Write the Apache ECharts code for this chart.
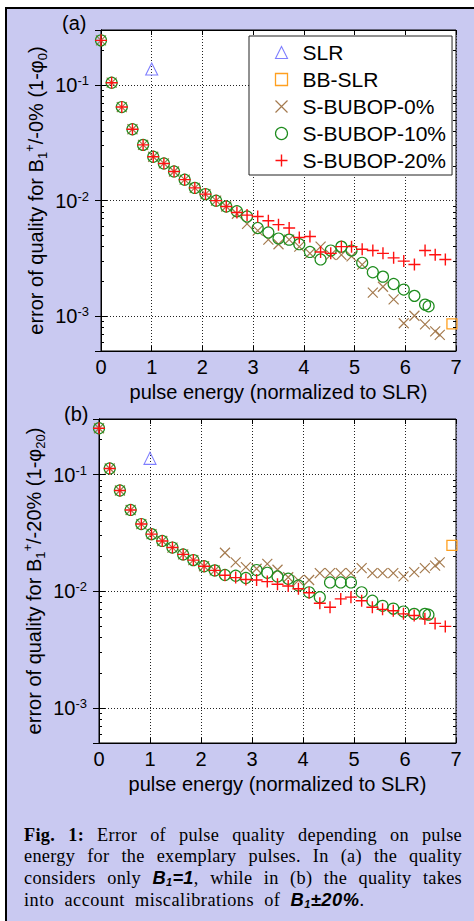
<!DOCTYPE html>
<html><head><meta charset="utf-8">
<script src="https://cdn.jsdelivr.net/npm/echarts@6/dist/echarts.min.js"></script>
<style>
html,body{margin:0;padding:0;background:#fff;width:474px;height:921px;overflow:hidden;}
#bg{position:absolute;left:5px;top:7px;width:469px;height:914px;background:#c9c9f1;border-left:2px solid #000;border-top:2px solid #000;box-sizing:border-box;}
#chart{position:absolute;left:0;top:0;width:474px;height:921px;}
#cap{position:absolute;left:24px;top:825px;width:438px;font-family:'Liberation Serif','Times New Roman',serif;font-size:18.3px;line-height:21px;letter-spacing:0.3px;color:#000;z-index:5;}
#cap .j{text-align:justify;text-align-last:justify;}
#cap .l{word-spacing:5px;letter-spacing:0.5px;}
#cap .s{font-family:'Liberation Sans',Arial,sans-serif;font-weight:bold;font-style:italic;}
#cap sub{font-size:0.6em;vertical-align:-0.2em;line-height:0;}
</style></head>
<body>
<div id="bg"></div>
<div id="chart"></div>
<div id="cap">
<div class="j"><b>Fig. 1:</b> Error of pulse quality depending on pulse</div>
<div class="j">energy for the exemplary pulses. In (a) the quality</div>
<div class="j">considers only <span class="s">B<sub>1</sub>=1</span>, while in (b) the quality takes</div>
<div class="l">into account miscalibrations of <span class="s">B<sub>1</sub>±20%</span>.</div>
</div>
<script>
// ---- tick labels / axis values ----
const xTicks = [0, 1, 2, 3, 4, 5, 6, 7];
const yDecades = [1e-3, 1e-2, 1e-1];
const yMinorTicks = [6e-4, 7e-4, 8e-4, 9e-4, 2e-3, 3e-3, 4e-3, 5e-3, 6e-3, 7e-3, 8e-3, 9e-3,
  2e-2, 3e-2, 4e-2, 5e-2, 6e-2, 7e-2, 8e-2, 9e-2, 2e-1];
const legendNames = ['SLR', 'BB-SLR', 'S-BUBOP-0%', 'S-BUBOP-10%', 'S-BUBOP-20%'];

// ---- pulse energies (x) ----
const energy20 = [0, 0.21, 0.41, 0.62, 0.83, 1.03, 1.24, 1.44, 1.65, 1.85, 2.06, 2.27, 2.47, 2.68, 2.88, 3.09, 3.30,
  3.50, 3.71, 3.91, 4.12, 4.33, 4.53, 4.74, 4.94, 5.15, 5.36, 5.56, 5.77, 5.97, 6.18, 6.39, 6.59, 6.79];
const energy10 = [0, 0.21, 0.41, 0.62, 0.83, 1.03, 1.24, 1.44, 1.65, 1.85, 2.06, 2.27, 2.47, 2.68, 2.88, 3.09, 3.30,
  3.50, 3.71, 3.91, 4.12, 4.33, 4.53, 4.74, 4.94, 5.15, 5.36, 5.56, 5.77, 5.97, 6.18, 6.39, 6.46];
const energy0 = [0, 0.21, 0.41, 0.62, 0.83, 1.03, 1.24, 1.44, 1.65, 1.85, 2.06, 2.27, 2.47, 2.68, 2.88, 3.09, 3.30,
  3.50, 3.71, 3.91, 4.12, 4.33, 4.53, 4.74, 4.94, 5.15, 5.36, 5.56, 5.77, 5.97, 6.18, 6.39, 6.59, 6.68];
const slrEnergy = [1.0];
const bbEnergy = [6.92];

// ---- (a) error for B1 +/-0% ----
const slrA = [0.138];
const bbA = [0.00086];
const bubop0A = [0.244, 0.105, 0.0646, 0.0415, 0.0304, 0.024, 0.021, 0.0179, 0.0152, 0.0129, 0.0114, 0.0100, 0.0089,
  0.0077, 0.0063, 0.0055, 0.0046, 0.0042, 0.0046, 0.0040, 0.0035, 0.0040, 0.0034, 0.0034, 0.0033, 0.0028,
  0.0016, 0.0018, 0.0014, 0.00087, 0.00101, 0.00085, 0.00074, 0.00069];
const bubop10A = [0.244, 0.105, 0.0646, 0.0415, 0.0304, 0.024, 0.021, 0.0179, 0.0152, 0.0129, 0.0114, 0.0100, 0.0089,
  0.0081, 0.0073, 0.0058, 0.0053, 0.0047, 0.0046, 0.0042, 0.0036, 0.0031, 0.0037, 0.0040, 0.0037, 0.0029,
  0.0024, 0.0022, 0.0019, 0.0017, 0.0015, 0.00126, 0.00122];
const bubop20A = [0.244, 0.105, 0.0646, 0.0415, 0.0304, 0.024, 0.021, 0.0179, 0.0152, 0.0129, 0.0114, 0.0100, 0.0089,
  0.0079, 0.0075, 0.0073, 0.0067, 0.0062, 0.0058, 0.0048, 0.0049, 0.0036, 0.0035, 0.0040, 0.0040, 0.0038,
  0.0037, 0.0035, 0.0032, 0.0030, 0.0028, 0.0037, 0.0034, 0.0031];

// ---- (b) error for B1 +/-20% ----
const slrB = [0.138];
const bbB = [0.0247];
const bubop0B = [0.25, 0.113, 0.0731, 0.0498, 0.0377, 0.0309, 0.027, 0.0237, 0.0207, 0.0185, 0.0164, 0.0151, 0.0214,
  0.0177, 0.0161, 0.0156, 0.0172, 0.0153, 0.0132, 0.0124, 0.0125, 0.0143, 0.0143, 0.0143, 0.0143, 0.0158,
  0.0143, 0.0143, 0.0143, 0.0134, 0.0146, 0.0158, 0.0166, 0.0177];
const bubop10B = [0.25, 0.113, 0.0731, 0.0498, 0.0377, 0.0309, 0.027, 0.0237, 0.0207, 0.0185, 0.0164, 0.0151, 0.0138,
  0.0136, 0.0130, 0.0152, 0.0144, 0.0134, 0.0128, 0.0112, 0.0098, 0.0089, 0.0119, 0.0119, 0.0119, 0.0098,
  0.0083, 0.0075, 0.0071, 0.0067, 0.0064, 0.0064, 0.0063];
const bubop20B = [0.25, 0.113, 0.0731, 0.0498, 0.0377, 0.0309, 0.027, 0.0237, 0.0207, 0.0185, 0.0164, 0.0151, 0.0137,
  0.0131, 0.0126, 0.0125, 0.0121, 0.0115, 0.0111, 0.0105, 0.0097, 0.0079, 0.0073, 0.0086, 0.0089, 0.0083,
  0.0073, 0.0070, 0.0068, 0.0064, 0.0062, 0.0058, 0.0053, 0.0050];

const FONT = "'Liberation Sans', Arial, sans-serif";
const pair = (xs, ys) => ys.map((v, i) => [xs[i], v]);

const styles = {
  'SLR': {symbol: 'triangle', size: 12, color: '#7f7fff', w: 1.1},
  'BB-SLR': {symbol: 'rect', size: 10, color: '#ffa020', w: 1.3},
  'S-BUBOP-0%': {symbol: 'path://M0,0L10,10M10,0L0,10', size: 10, color: '#a47a4e', w: 1.2},
  'S-BUBOP-10%': {symbol: 'circle', size: 11, color: '#1e8c1e', w: 1.2},
  'S-BUBOP-20%': {symbol: 'path://M5,0L5,10M0,5L10,5', size: 12, color: '#ff1010', w: 1.4}
};

function scatter(name, data, idx) {
  const s = styles[name];
  return {
    type: 'scatter', name: name, data: data, xAxisIndex: idx * 2, yAxisIndex: idx * 4,
    symbol: s.symbol, symbolSize: s.size, silent: true,
    itemStyle: {color: 'none', borderColor: s.color, borderWidth: s.w, opacity: 1}
  };
}

const yLabelFmt = v => {
  for (let i = 0; i < yDecades.length; i++) {
    if (Math.abs(v / yDecades[i] - 1) < 1e-6) {
      return '{b|10}{s|' + Math.round(Math.log10(yDecades[i])) + '}';
    }
  }
  return '';
};

const grids = [
  {left: 101, top: 30, width: 355, height: 321},
  {left: 99, top: 419, width: 357, height: 324}
];

const xAxes = [], yAxes = [];
const yNames = [
  '{n|error of quality for B}{sub|1}{sup|+}{n|/-0% (1-φ}{sub|0}{n|)}',
  '{n|error of quality for B}{sub|1}{sup|+}{n|/-20% (1-φ}{sub|20}{n|)}'
];
grids.forEach((g, gi) => {
  xAxes.push({
    gridIndex: gi, type: 'value', min: xTicks[0], max: xTicks[xTicks.length - 1], interval: 1,
    name: 'pulse energy (normalized to SLR)', nameLocation: 'middle', nameGap: 31, nameMoveOverlap: false,
    nameTextStyle: {fontSize: 20, fontFamily: FONT, color: '#000'},
    axisLine: {show: true, lineStyle: {color: '#000', width: 1}},
    axisTick: {show: true, inside: true, length: 5, lineStyle: {color: '#000'}},
    axisLabel: {show: true, margin: 6, fontSize: 20, fontFamily: FONT, color: '#000', hideOverlap: false},
    splitLine: {show: true, lineStyle: {color: '#222', width: 1, type: [1, 2]}}
  });
  xAxes.push({
    gridIndex: gi, type: 'value', position: 'top', min: xTicks[0], max: xTicks[xTicks.length - 1], interval: 1,
    axisLine: {show: true, lineStyle: {color: '#000', width: 1}},
    axisTick: {show: true, inside: true, length: 5, lineStyle: {color: '#000'}},
    axisLabel: {show: false}, splitLine: {show: false}
  });
  const base = {gridIndex: gi, type: 'log', logBase: 10, min: 5e-4, max: 0.3};
  yAxes.push(Object.assign({}, base, {
    position: 'left',
    name: yNames[gi], nameLocation: 'middle', nameGap: 52, nameRotate: 90, nameMoveOverlap: false,
    nameTextStyle: {fontSize: 20, fontFamily: FONT, color: '#000',
      rich: {
        n: {fontSize: 20, fontFamily: FONT, color: '#000', lineHeight: 26},
        sub: {fontSize: 13, fontFamily: FONT, color: '#000', lineHeight: 12, verticalAlign: 'bottom'},
        sup: {fontSize: 13, fontFamily: FONT, color: '#000', lineHeight: 12, verticalAlign: 'top'}
      }},
    axisLine: {show: true, lineStyle: {color: '#000', width: 1}},
    axisTick: {show: true, inside: true, length: 6, lineStyle: {color: '#000'}},
    axisLabel: {show: true, margin: 12, formatter: yLabelFmt, hideOverlap: false,
      showMinLabel: true, showMaxLabel: true,
      rich: {
        b: {fontSize: 20, fontFamily: FONT, color: '#000', lineHeight: 22},
        s: {fontSize: 13, fontFamily: FONT, color: '#000', lineHeight: 12, verticalAlign: 'top'}
      }},
    splitLine: {show: true, lineStyle: {color: '#222', width: 1, type: [1, 2]}},
    minorTick: {show: false}
  }));
  yAxes.push(Object.assign({}, base, {
    position: 'right',
    axisLine: {show: true, lineStyle: {color: '#000', width: 1}},
    axisTick: {show: true, inside: true, length: 6, lineStyle: {color: '#000'}},
    axisLabel: {show: false}, splitLine: {show: false}
  }));
  ['left', 'right'].forEach(pos => {
    yAxes.push(Object.assign({}, base, {
      position: pos,
      axisLine: {show: false},
      axisTick: {show: true, inside: true, length: 3, customValues: yMinorTicks, lineStyle: {color: '#000'}},
      axisLabel: {show: false}, splitLine: {show: false}
    }));
  });
});

const series = [
  scatter('SLR', pair(slrEnergy, slrA), 0),
  scatter('BB-SLR', pair(bbEnergy, bbA), 0),
  scatter('S-BUBOP-0%', pair(energy0, bubop0A), 0),
  scatter('S-BUBOP-10%', pair(energy10, bubop10A), 0),
  scatter('S-BUBOP-20%', pair(energy20, bubop20A), 0),
  scatter('SLR', pair(slrEnergy, slrB), 1),
  scatter('BB-SLR', pair(bbEnergy, bbB), 1),
  scatter('S-BUBOP-0%', pair(energy0, bubop0B), 1),
  scatter('S-BUBOP-10%', pair(energy10, bubop10B), 1),
  scatter('S-BUBOP-20%', pair(energy20, bubop20B), 1)
];

const chart = echarts.init(document.getElementById('chart'), null, {renderer: 'svg'});
chart.setOption({
  animation: false,
  backgroundColor: 'transparent',
  textStyle: {fontFamily: FONT},
  title: [
    {text: '(a)', left: 62, top: 13, padding: 0, textStyle: {fontSize: 20, fontWeight: 'normal', fontFamily: FONT, color: '#000'}},
    {text: '(b)', left: 64, top: 404, padding: 0, textStyle: {fontSize: 20, fontWeight: 'normal', fontFamily: FONT, color: '#000'}}
  ],
  grid: grids.map(g => Object.assign({show: true, backgroundColor: '#fff', borderColor: '#000', borderWidth: 1,
    containLabel: false, outerBoundsMode: 'none'}, g)),
  xAxis: xAxes,
  yAxis: yAxes,
  legend: {
    left: 249, top: 36, orient: 'vertical', selectedMode: false,
    itemWidth: 12, itemHeight: 12, itemGap: 6, padding: [6, 6, 4, 24],
    backgroundColor: '#fff', borderColor: '#222', borderWidth: 1, borderRadius: 0,
    symbolKeepAspect: true,
    textStyle: {fontSize: 21, fontFamily: FONT, color: '#000', lineHeight: 21, padding: [0, 0, 0, 10]},
    data: legendNames.map(n => ({name: n, icon: styles[n].symbol,
      itemStyle: {color: 'none', borderColor: styles[n].color, borderWidth: styles[n].w}}))
  },
  series: series
});
</script>
</body></html>
